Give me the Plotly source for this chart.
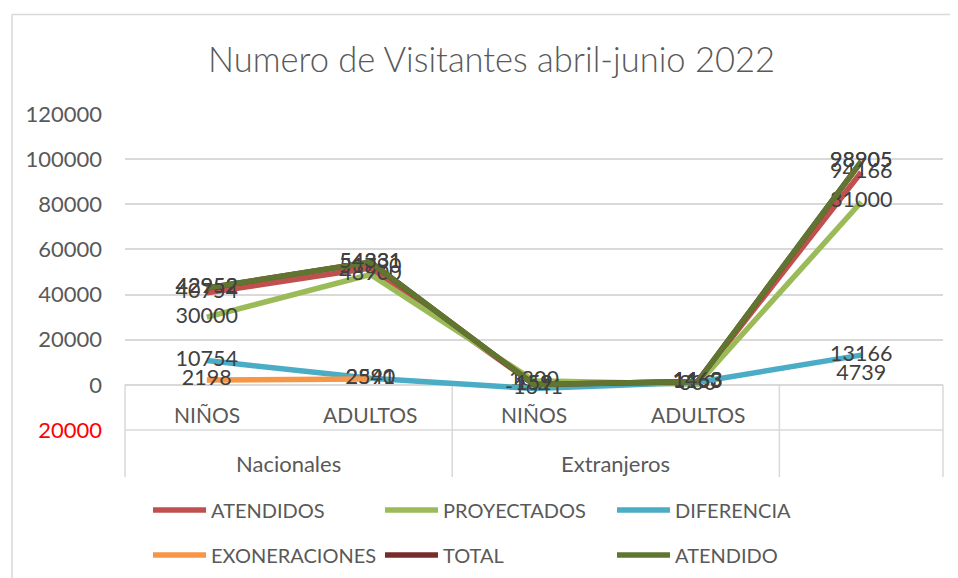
import plotly.graph_objects as go

# ---- data ----
sub_labels = ["NIÑOS", "ADULTOS", "NIÑOS", "ADULTOS", ""]
group_labels = ["Nacionales", "Extranjeros"]
group_centers = [0.5, 2.5]
x_idx = [0, 1, 2, 3, 4]

atendidos = [40754, 51790, 159, 1463, 94166]
proyectados = [30000, 48900, 1800, 300, 81000]
diferencia = [10754, 2890, -1641, 1163, 13166]
exoneraciones = [2198, 2541, None, None, 4739]
total = [42952, 54331, 159, 1463, 98905]
atendido = [42952, 54331, 159, 1463, 98905]

y_tickvals = [-20000, 0, 20000, 40000, 60000, 80000, 100000, 120000]
y_ticktext = ["<span style='color:#FF0000'>20000</span>", "0", "20000", "40000",
              "60000", "80000", "100000", "120000"]

series = [
    ("ATENDIDOS", atendidos, "#C0504D", "legend"),
    ("PROYECTADOS", proyectados, "#9BBB59", "legend"),
    ("DIFERENCIA", diferencia, "#4BACC6", "legend"),
    ("EXONERACIONES", exoneraciones, "#F79646", "legend2"),
    ("TOTAL", total, "#772C2A", "legend2"),
    ("ATENDIDO", atendido, "#5F7530", "legend2"),
]

FONT = "Lato"
TXT = "#404040"
GRID = "#D9D9D9"

# figure-pixel geometry (page offset of 8px removed)
L, T = 117, 106
PW, PH = 818, 316
BOTTOM = T + PH  # 422


def py(p):
    return (BOTTOM - p) / PH


fig = go.Figure()
for name, vals, col, lg in series:
    fig.add_trace(go.Scatter(
        x=x_idx, y=vals, name=name, mode="lines+text",
        line=dict(color=col, width=5.5),
        text=[("" if v is None else str(v)) for v in vals],
        textposition="middle center",
        textfont=dict(family=FONT, size=21.5, color=TXT),
        legend=lg, connectgaps=False, cliponaxis=False,
    ))

# category annotations
for i, lab in enumerate(sub_labels):
    if lab:
        fig.add_annotation(x=x_idx[i], y=py(406), xref="x", yref="paper",
                           text=lab, showarrow=False, yanchor="middle",
                           font=dict(family=FONT, size=21, color="#595959"))
for c, lab in zip(group_centers, group_labels):
    fig.add_annotation(x=c, y=py(455), xref="x", yref="paper",
                       text=lab, showarrow=False, yanchor="middle",
                       font=dict(family=FONT, size=22, color="#595959"))

# category axis box (paper coords)
top = 1 / 7
bot = py(469)
shapes = [
    dict(type="line", xref="paper", yref="paper", x0=0, x1=1, y0=top, y1=top),
    dict(type="line", xref="paper", yref="paper", x0=0, x1=1, y0=0, y1=0),
]
for xp in [0, 0.4, 0.8, 1.0]:
    shapes.append(dict(type="line", xref="paper", yref="paper", x0=xp, x1=xp, y0=bot, y1=top))
# chart border (left + top edges; right/bottom lie outside the view)
bx0 = (4 - L) / PW
by1 = py(6.5)
shapes.append(dict(type="line", xref="paper", yref="paper", x0=bx0, x1=bx0, y0=-0.7, y1=by1))
shapes.append(dict(type="line", xref="paper", yref="paper", x0=bx0, x1=1.1, y0=by1, y1=by1))
for s in shapes:
    s["line"] = dict(color=GRID, width=1.5)
    s["layer"] = "below"

leg_common = dict(orientation="h", x=(140 - L) / PW, xanchor="left",
                  yanchor="middle", entrywidth=164, entrywidthmode="pixels",
                  itemwidth=53,
                  font=dict(family=FONT, size=20, color="#595959"),
                  bgcolor="rgba(0,0,0,0)")

fig.update_layout(
    width=958, height=578,
    margin=dict(l=L, r=958 - L - PW, t=T, b=578 - BOTTOM, autoexpand=False),
    paper_bgcolor="white", plot_bgcolor="white",
    title=dict(text="Numero de Visitantes abril-junio 2022",
               x=483.5 / 958, xref="container", xanchor="center",
               y=1 - 52 / 578, yref="container", yanchor="middle",
               font=dict(family=FONT, size=34.5, color="#595959", weight=300)),
    xaxis=dict(range=[-0.5, 4.5], showticklabels=False, showgrid=False,
               zeroline=False, showline=False, ticks=""),
    yaxis=dict(range=[-20000, 120000], tickvals=y_tickvals, ticktext=y_ticktext,
               showgrid=True, gridcolor=GRID, gridwidth=1.5, zeroline=False,
               showline=False, ticks="", ticklabelstandoff=22,
               tickfont=dict(family=FONT, size=22, color="#595959")),
    shapes=shapes,
    legend=dict(y=py(502), **leg_common),
    legend2=dict(y=py(547), **leg_common),
    showlegend=True,
)

fig.write_html("out.html")
